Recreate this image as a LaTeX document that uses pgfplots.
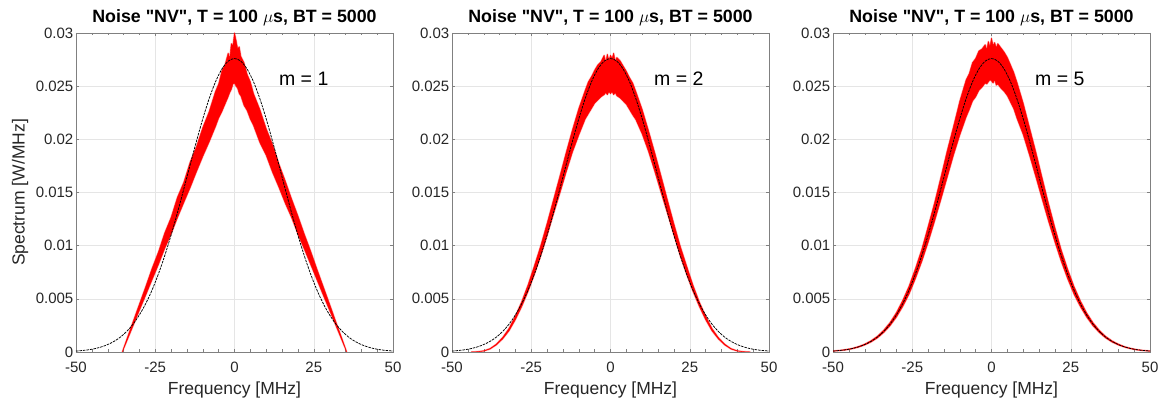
\documentclass[border=0pt]{standalone}
\usepackage{fontspec}
\setmainfont{Liberation Sans}[Ligatures=TeXOff]
\usepackage{pgfplots}
\usepackage{pgfplotstable}
\pgfplotsset{compat=1.18}

\definecolor{axgray}{gray}{0.5}
\definecolor{txt}{gray}{0.15}
\definecolor{gridc}{gray}{0.9}

% Gaussian reference (black dash-dot)
\pgfplotstableread{
x y
-50 0.00009
-48 0.00014
-46 0.00021
-44 0.00032
-42 0.00048
-40 0.00070
-38 0.00100
-36 0.00140
-34 0.00194
-32 0.00262
-30 0.00349
-28 0.00455
-26 0.00583
-24 0.00734
-22 0.00907
-20 0.01100
-18 0.01310
-16 0.01532
-14 0.01759
-12 0.01982
-10 0.02193
-8 0.02382
-6 0.02541
-4 0.02660
-2 0.02735
0 0.02760
2 0.02735
4 0.02660
6 0.02541
8 0.02382
10 0.02193
12 0.01982
14 0.01759
16 0.01532
18 0.01310
20 0.01100
22 0.00907
24 0.00734
26 0.00583
28 0.00455
30 0.00349
32 0.00262
34 0.00194
36 0.00140
38 0.00100
40 0.00070
42 0.00048
44 0.00032
46 0.00021
48 0.00014
50 0.00009
}\gauss

% m = 1 : noisy band (upper edge left to right, lower edge right to left)
\pgfplotstableread{
x y
-35.4 0
-34 0.00118
-32 0.00285
-30 0.00450
-28 0.00615
-26 0.00786
-24 0.00940
-22 0.01120
-20 0.01265
-18 0.01455
-16 0.01595
-14 0.01785
-12 0.01930
-10 0.02110
-8 0.02260
-6 0.02450
-5 0.02520
-4 0.02640
-3 0.02700
-2 0.02810
-1.5 0.02760
-1 0.02900
-0.5 0.02880
0 0.03000
0.5 0.02930
1 0.02850
1.5 0.02870
2 0.02780
3 0.02720
4 0.02610
5 0.02540
6 0.02430
8 0.02280
10 0.02100
12 0.01950
14 0.01770
16 0.01610
18 0.01440
20 0.01280
22 0.01110
24 0.00950
26 0.00780
28 0.00615
30 0.00450
32 0.00282
34 0.00117
35.4 0
34 0.00102
32 0.00247
30 0.00392
28 0.00535
26 0.00680
24 0.00825
22 0.00970
20 0.01110
18 0.01265
16 0.01400
14 0.01550
12 0.01690
10 0.01850
8 0.01970
6 0.02130
5 0.02190
4 0.02270
3 0.02320
2 0.02410
1.5 0.02430
1 0.02480
0.5 0.02500
0 0.02530
-0.5 0.02520
-1 0.02470
-1.5 0.02440
-2 0.02400
-3 0.02330
-4 0.02260
-5 0.02200
-6 0.02120
-8 0.01975
-10 0.01840
-12 0.01695
-14 0.01545
-16 0.01405
-18 0.01262
-20 0.01110
-22 0.00975
-24 0.00822
-26 0.00680
-28 0.00535
-30 0.00392
-32 0.00246
-34 0.00101
-35.4 0
}\bandA

% m = 2
\pgfplotstableread{
x y
-44 0
-42 0.00003
-40 0.00011
-38 0.00032
-36 0.00074
-34 0.00137
-32 0.00222
-30 0.00338
-28 0.00474
-26 0.00632
-24 0.00812
-22 0.01000
-20 0.01210
-18 0.01430
-16 0.01650
-14 0.01875
-12 0.02090
-10 0.02290
-8 0.02460
-7 0.02540
-6 0.02590
-5 0.02650
-4 0.02700
-3 0.02730
-2 0.02790
-1.5 0.02720
-1 0.02800
-0.5 0.02740
0 0.02790
0.5 0.02760
1 0.02810
1.5 0.02730
2 0.02770
3 0.02740
4 0.02690
5 0.02640
6 0.02580
7 0.02530
8 0.02450
10 0.02280
12 0.02080
14 0.01870
16 0.01650
18 0.01425
20 0.01205
22 0.00995
24 0.00810
26 0.00630
28 0.00472
30 0.00337
32 0.00221
34 0.00136
36 0.00074
38 0.00032
40 0.00011
42 0.00003
44 0
42 0.00002
40 0.00009
38 0.00028
36 0.00067
34 0.00124
32 0.00200
30 0.00305
28 0.00430
26 0.00572
24 0.00732
22 0.00905
20 0.01100
18 0.01300
16 0.01495
14 0.01695
12 0.01885
10 0.02050
8 0.02185
7 0.02230
6 0.02280
5 0.02330
4 0.02360
3 0.02390
2 0.02410
1.5 0.02440
1 0.02420
0.5 0.02450
0 0.02430
-0.5 0.02450
-1 0.02420
-1.5 0.02440
-2 0.02420
-3 0.02400
-4 0.02370
-5 0.02340
-6 0.02290
-7 0.02240
-8 0.02190
-10 0.02040
-12 0.01880
-14 0.01690
-16 0.01490
-18 0.01295
-20 0.01095
-22 0.00905
-24 0.00730
-26 0.00570
-28 0.00428
-30 0.00305
-32 0.00200
-34 0.00124
-36 0.00067
-38 0.00028
-40 0.00009
-42 0.00002
-44 0
}\bandB

% m = 5
\pgfplotstableread{
x y
-50 0.00010
-48 0.00015
-46 0.00023
-44 0.00034
-42 0.00051
-40 0.00074
-38 0.00106
-36 0.00148
-34 0.00205
-32 0.00277
-30 0.00370
-28 0.00485
-26 0.00620
-24 0.00785
-22 0.00965
-20 0.01180
-18 0.01400
-16 0.01640
-14 0.01890
-12 0.02120
-10 0.02360
-8 0.02560
-7 0.02620
-6 0.02720
-5 0.02760
-4 0.02830
-3 0.02850
-2 0.02890
-1.5 0.02840
-1 0.02920
-0.5 0.02870
0 0.02950
0.5 0.02880
1 0.02910
1.5 0.02860
2 0.02900
3 0.02860
4 0.02820
5 0.02770
6 0.02700
7 0.02630
8 0.02540
10 0.02340
12 0.02110
14 0.01880
16 0.01635
18 0.01395
20 0.01170
22 0.00960
24 0.00780
26 0.00618
28 0.00483
30 0.00368
32 0.00276
34 0.00204
36 0.00147
38 0.00105
40 0.00074
42 0.00050
44 0.00034
46 0.00022
48 0.00015
50 0.00010
50 0.00008
48 0.00013
46 0.00019
44 0.00030
42 0.00045
40 0.00066
38 0.00094
36 0.00132
34 0.00183
32 0.00247
30 0.00329
28 0.00428
26 0.00546
24 0.00690
22 0.00852
20 0.01035
18 0.01228
16 0.01435
14 0.01645
12 0.01850
10 0.02045
8 0.02200
7 0.02290
6 0.02350
5 0.02410
4 0.02450
3 0.02480
2 0.02520
1.5 0.02510
1 0.02560
0.5 0.02530
0 0.02550
-0.5 0.02560
-1 0.02540
-1.5 0.02520
-2 0.02530
-3 0.02490
-4 0.02460
-5 0.02400
-6 0.02360
-7 0.02280
-8 0.02210
-10 0.02040
-12 0.01850
-14 0.01640
-16 0.01430
-18 0.01225
-20 0.01030
-22 0.00850
-24 0.00690
-26 0.00545
-28 0.00428
-30 0.00328
-32 0.00247
-34 0.00183
-36 0.00132
-38 0.00094
-40 0.00066
-42 0.00045
-44 0.00030
-46 0.00019
-48 0.00013
-50 0.00008
}\bandC

\tikzset{
  mlabel/.style={anchor=west, inner sep=0pt, font=\fontsize{19.5}{19.5}\selectfont, text=black},
}

\pgfplotsset{
  mlab/.style={
    scale only axis, width=317pt, height=319pt,
    anchor=south west,
    xmin=-50, xmax=50, ymin=0, ymax=0.03,
    xtick={-50,-25,0,25,50}, xticklabels={-50,-25,0,25,50},
    minor xtick={-45,-40,-35,-30,-20,-15,-10,-5,5,10,15,20,30,35,40,45},
    ytick={0,0.005,0.01,0.015,0.02,0.025,0.03},
    yticklabels={0,0.005,0.01,0.015,0.02,0.025,0.03},
    scaled y ticks=false,
    grid=major, major grid style={gridc, line width=0.5pt},
    tick align=inside, major tick length=3pt, minor tick length=2.5pt,
    every tick/.style={axgray, line width=0.4pt},
    axis line style={axgray, line width=0.5pt},
    ticklabel style={font=\fontsize{15}{15}\selectfont, text=txt},
    xticklabel style={anchor=base, inner sep=0pt, yshift=-21pt},
    yticklabel style={anchor=east, inner sep=0pt, xshift=-2.5pt},
    title style={at={(axis description cs:0.5,1)}, anchor=base, yshift=4.5pt,
      inner sep=0pt, font=\bfseries\fontsize{17.8}{17.8}\selectfont, text=black},
    title={Noise "NV", T = 100 $\mu$s, BT = 5000},
    xlabel={Frequency [MHz]},
    xlabel style={at={(axis description cs:0.5,0)}, anchor=base, yshift=-43pt,
      inner sep=0pt, font=\fontsize{17.5}{17.5}\selectfont, text=txt},
    ylabel style={at={(axis description cs:-0.1767,0.5)}, anchor=center,
      inner sep=0pt, font=\fontsize{17.5}{17.5}\selectfont, text=txt},
  },
  halo/.style={draw=red, draw opacity=0.35, line width=1.6pt, line join=round},
  band/.style={fill=red, draw=red, line width=0.4pt, line join=round},
  gss/.style={black, line width=0.75pt, dash pattern=on 2.5pt off 1pt, smooth},
}

\begin{document}
\begin{tikzpicture}
\begin{axis}[mlab, at={(0pt,0pt)}, ylabel={Spectrum [W/MHz]}]
  \addplot[red, line width=0.5pt] coordinates {(-50,0) (-35.4,0)};
  \addplot[red, line width=0.5pt] coordinates {(35.4,0) (50,0)};
  \addplot[halo] table {\bandA};
  \addplot[band] table {\bandA};
  \addplot[gss] table {\gauss};
  \node[mlabel] at (axis cs:14,0.0257) {m = 1};
\end{axis}
\begin{axis}[mlab, at={(376pt,0pt)}]
  \addplot[red, line width=0.5pt] coordinates {(-50,0) (-44,0)};
  \addplot[red, line width=0.5pt] coordinates {(44,0) (50,0)};
  \addplot[halo] table {\bandB};
  \addplot[band] table {\bandB};
  \addplot[gss] table {\gauss};
  \node[mlabel] at (axis cs:13.7,0.0257) {m = 2};
\end{axis}
\begin{axis}[mlab, at={(757pt,0pt)}]
  \addplot[halo] table {\bandC};
  \addplot[band] table {\bandC};
  \addplot[gss] table {\gauss};
  \node[mlabel] at (axis cs:13.7,0.0257) {m = 5};
\end{axis}
\pgfresetboundingbox
\useasboundingbox (-76pt,-49pt) rectangle (1087pt,352pt);
\end{tikzpicture}
\end{document}
